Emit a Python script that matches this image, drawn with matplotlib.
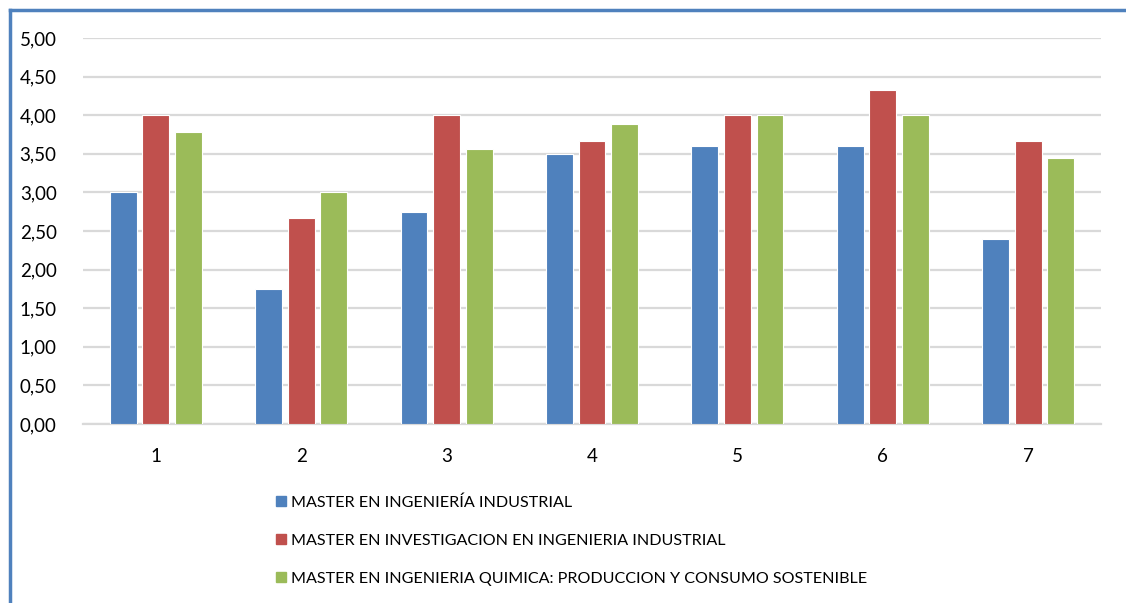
import numpy as np
import matplotlib.pyplot as plt
from matplotlib.lines import Line2D

# Data
categories = ["1", "2", "3", "4", "5", "6", "7"]
ing_industrial = [3.00, 1.75, 2.75, 3.50, 3.60, 3.60, 2.40]
inv_industrial = [4.00, 2.67, 4.00, 3.67, 4.00, 4.33, 3.67]
ing_quimica = [3.78, 3.00, 3.56, 3.89, 4.00, 4.00, 3.44]
series_names = [
    "MASTER EN INGENIERÍA INDUSTRIAL",
    "MASTER EN INVESTIGACION EN INGENIERIA INDUSTRIAL",
    "MASTER EN INGENIERIA QUIMICA: PRODUCCION Y CONSUMO SOSTENIBLE",
]
colors = ["#4f81bd", "#c0504d", "#9bbb59"]
y_ticks = [0, 0.5, 1.0, 1.5, 2.0, 2.5, 3.0, 3.5, 4.0, 4.5, 5.0]

plt.rcParams['font.family'] = ['Lato', 'DejaVu Sans']

W, H = 1126, 603
fig = plt.figure(figsize=(W / 100, H / 100), dpi=100)
ax = fig.add_axes([83 / W, 1 - 424 / H, (1101 - 83) / W, (424 - 38) / H])

x = np.arange(len(categories))
pitch = 0.224
width = 0.185
for i, vals in enumerate([ing_industrial, inv_industrial, ing_quimica]):
    ax.bar(x + (i - 1) * pitch, vals, width, color=colors[i],
           edgecolor="white", linewidth=0.8, label=series_names[i], zorder=3)

ax.set_xlim(-0.5, len(categories) - 0.5)
ax.set_ylim(0, 5)
ax.set_yticks(y_ticks)
ax.set_yticklabels([f"{v:.2f}".replace(".", ",") for v in y_ticks])
ax.set_xticks(x)
ax.set_xticklabels(categories)
ax.tick_params(axis="both", length=0, labelsize=13.5, colors="black")
ax.tick_params(axis="y", pad=19)
ax.tick_params(axis="x", pad=17)
ax.yaxis.grid(True, color="#d9d9d9", linewidth=1.6, zorder=0)
for side in ["top", "right", "left"]:
    ax.spines[side].set_visible(False)
ax.spines["bottom"].set_color("#d9d9d9")
ax.spines["bottom"].set_linewidth(1.6)

handles = [plt.Rectangle((0, 0), 1, 1, color=c) for c in colors]
fig.legend(handles, series_names, loc="upper left",
           bbox_to_anchor=(268 / W, 1 - 487 / H), frameon=False,
           fontsize=11.6, handlelength=0.6, handleheight=0.6,
           handletextpad=0.3, labelspacing=1.5, borderpad=0)

# blue frame on left and top
fig.add_artist(Line2D([10 / W, 10 / W], [0, 1 - 10 / H], color="#4f81bd",
                      linewidth=2.5, transform=fig.transFigure))
fig.add_artist(Line2D([10 / W, 1], [1 - 10 / H, 1 - 10 / H], color="#4f81bd",
                      linewidth=2.5, transform=fig.transFigure))

fig.savefig("out.png", dpi=100)
